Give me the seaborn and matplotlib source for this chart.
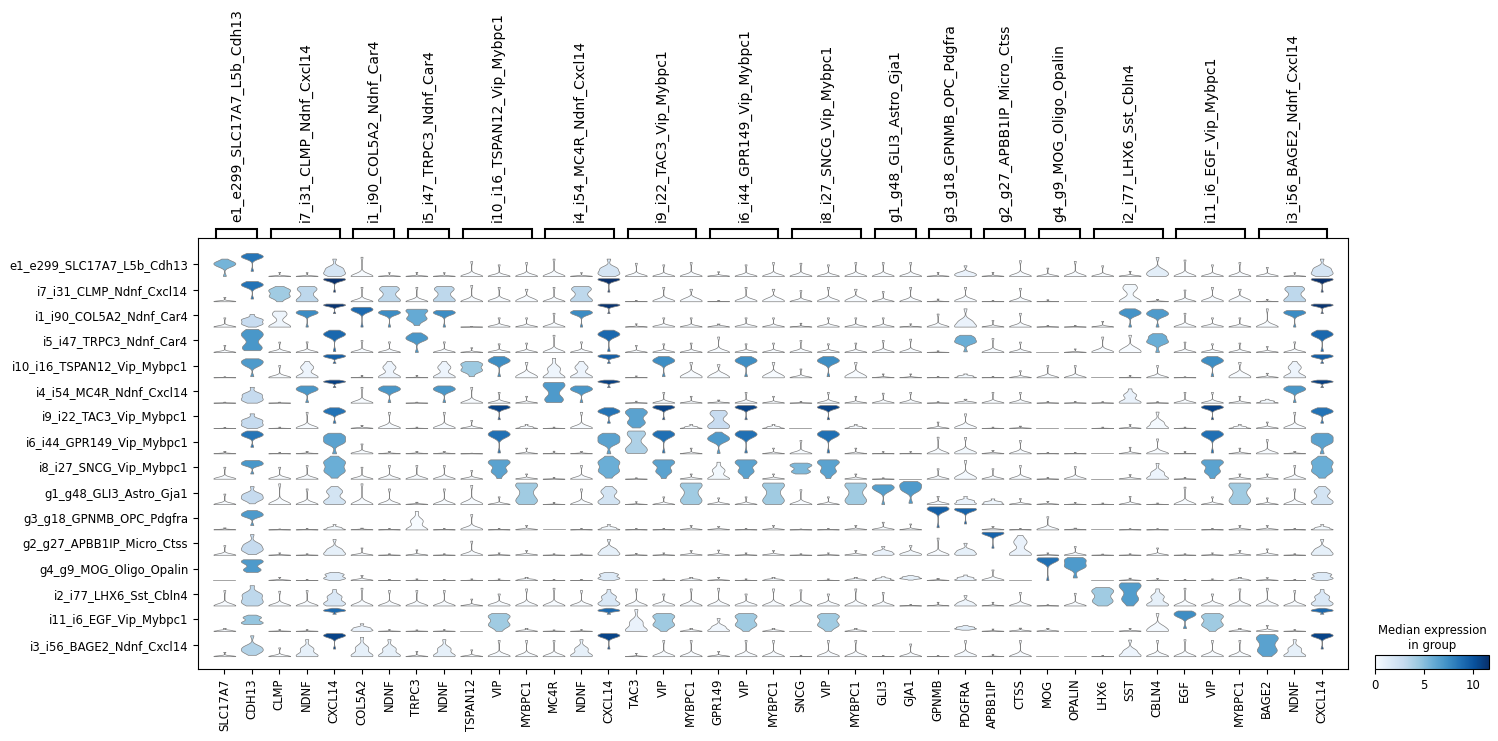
import numpy as np
import pandas as pd
import seaborn as sns
import matplotlib as mpl
import matplotlib.pyplot as plt

# clusters (rows, top to bottom)
CLUSTERS = [
    'e1_e299_SLC17A7_L5b_Cdh13', 'i7_i31_CLMP_Ndnf_Cxcl14', 'i1_i90_COL5A2_Ndnf_Car4',
    'i5_i47_TRPC3_Ndnf_Car4', 'i10_i16_TSPAN12_Vip_Mybpc1', 'i4_i54_MC4R_Ndnf_Cxcl14',
    'i9_i22_TAC3_Vip_Mybpc1', 'i6_i44_GPR149_Vip_Mybpc1', 'i8_i27_SNCG_Vip_Mybpc1',
    'g1_g48_GLI3_Astro_Gja1', 'g3_g18_GPNMB_OPC_Pdgfra', 'g2_g27_APBB1IP_Micro_Ctss',
    'g4_g9_MOG_Oligo_Opalin', 'i2_i77_LHX6_Sst_Cbln4', 'i11_i6_EGF_Vip_Mybpc1',
    'i3_i56_BAGE2_Ndnf_Cxcl14',
]

# marker genes per group (column order)
VAR_GROUPS = [
    ('e1_e299_SLC17A7_L5b_Cdh13', ['SLC17A7', 'CDH13']),
    ('i7_i31_CLMP_Ndnf_Cxcl14', ['CLMP', 'NDNF', 'CXCL14']),
    ('i1_i90_COL5A2_Ndnf_Car4', ['COL5A2', 'NDNF']),
    ('i5_i47_TRPC3_Ndnf_Car4', ['TRPC3', 'NDNF']),
    ('i10_i16_TSPAN12_Vip_Mybpc1', ['TSPAN12', 'VIP', 'MYBPC1']),
    ('i4_i54_MC4R_Ndnf_Cxcl14', ['MC4R', 'NDNF', 'CXCL14']),
    ('i9_i22_TAC3_Vip_Mybpc1', ['TAC3', 'VIP', 'MYBPC1']),
    ('i6_i44_GPR149_Vip_Mybpc1', ['GPR149', 'VIP', 'MYBPC1']),
    ('i8_i27_SNCG_Vip_Mybpc1', ['SNCG', 'VIP', 'MYBPC1']),
    ('g1_g48_GLI3_Astro_Gja1', ['GLI3', 'GJA1']),
    ('g3_g18_GPNMB_OPC_Pdgfra', ['GPNMB', 'PDGFRA']),
    ('g2_g27_APBB1IP_Micro_Ctss', ['APBB1IP', 'CTSS']),
    ('g4_g9_MOG_Oligo_Opalin', ['MOG', 'OPALIN']),
    ('i2_i77_LHX6_Sst_Cbln4', ['LHX6', 'SST', 'CBLN4']),
    ('i11_i6_EGF_Vip_Mybpc1', ['EGF', 'VIP', 'MYBPC1']),
    ('i3_i56_BAGE2_Ndnf_Cxcl14', ['BAGE2', 'NDNF', 'CXCL14']),
]

# expression summary per gene and cluster: (min, q25, median, q75, max), same order as CLUSTERS
Z = (0, 0, 0, 0, 0)
SLC17A7 = [(0, 4.5, 5.5, 6, 7.5), (0, 0, 0, 0.3, 2.2), (0, 0, 0, 0, 4.8), (0, 0, 0, 0, 3.6),
           (0, 0, 0, 0, 0.4), (0, 0, 0, 0, 0.5), (0, 0, 0, 0, 0.5), (0, 0, 0, 0.2, 1),
           (0, 0, 0, 0.3, 5.5), (0, 0, 0, 0, 4.1), (0, 0, 0, 0.2, 0.9), (0, 0, 0, 0, 4.1),
           Z, (0, 0, 0, 0, 6.7), (0, 0, 0, 0.4, 1.2), (0, 0, 0, 0.3, 2.2)]
CDH13 = [(2.2, 8, 8.5, 9, 10), (1.4, 8, 8.6, 9.5, 10.5), (0, 1.5, 2.8, 4, 6.5), (0.9, 2.5, 7, 9.5, 11.8),
         (0.5, 5.5, 6.8, 7.5, 8.4), (0, 1.5, 2.9, 4.5, 8.1), (0, 1.5, 2.9, 4.3, 7.5), (3, 8, 8.5, 9.5, 10.4),
         (2.4, 6.5, 7, 8, 8.6), (0.3, 2, 2.9, 4, 7), (2, 6.2, 6.8, 7.8, 8.8), (0.3, 2, 2.9, 4.5, 8.8),
         (3.4, 4.5, 6.8, 8, 8.6), (0, 1.5, 3.2, 5, 8.8), (3, 3.6, 4.6, 6, 7.1), (0.7, 2.5, 3.6, 5, 10.7)]
CLMP = [(0, 0, 0, 0, 1.7), (0, 2.5, 4.3, 6, 7.9), (0, 0, 0.5, 6.5, 8.3), (0, 0, 0, 0, 5.3),
        (0, 0, 0, 0.3, 5.4), (0, 0, 0, 0, 0.5), (0, 0, 0, 0, 0.7), (0, 0, 0, 0, 0.7),
        (0, 0, 0, 0.3, 5.5), (0, 0, 0, 0.3, 8.1), (0, 0, 0, 0, 0.4), (0, 0, 0, 0, 1),
        (0, 0, 0, 0.2, 1.3), (0, 0, 0, 0, 6.4), (0, 0, 0, 0, 0.7), (0, 0, 0, 0, 4.5)]
NDNF = [(0, 0, 0, 0, 1.6), (0, 0.5, 3.2, 6.5, 7.9), (0, 6.8, 7.5, 8, 8.6), (0, 0, 0, 0, 5.4),
        (0, 0.2, 0.6, 4.5, 7.2), (0.3, 6.3, 7, 8, 8.8), (0, 0, 0, 0.5, 8.3), (0, 0, 0, 0.2, 1),
        (0, 0, 0, 0, 6.3), (0, 0, 0, 0, 6.1), (0, 0, 0, 0, 0.6), (0, 0, 0, 0, 0.6),
        (0, 0, 0, 0, 0.5), (0, 0, 0, 0, 6.7), (0, 0, 0, 0, 0.7), (0, 0.3, 1, 4, 8.7)]
CXCL14 = [(0, 1, 2, 3.5, 7.5), (5, 11.2, 11.6, 11.8, 12), (7, 11, 11.4, 11.7, 12), (0.5, 8.5, 9.1, 10, 11.4),
          (6.4, 9, 9.5, 9.9, 10.2), (8, 10.6, 10.9, 11.3, 11.8), (2.7, 8, 8.6, 9.5, 10.6), (0, 5, 6.4, 8, 9.4),
          (0.5, 3.5, 5.8, 8, 10.6), (0, 0.8, 2.1, 5, 7), (0, 0, 0.3, 1, 2.4), (0, 0.3, 1, 2.5, 6.7),
          (0, 0.8, 1.5, 2.5, 3.4), (0, 0.8, 1.7, 4, 7.1), (7.5, 8.8, 9.1, 9.5, 10.1), (3.9, 10.3, 10.7, 11.2, 11.8)]
COL5A2 = [(0, 0, 0, 0, 8.3), (0, 0, 0, 0, 7.5), (0, 8.5, 9, 9.6, 10.3), (0, 0, 0, 0, 6.1),
          (0, 0, 0, 0, 1), (0, 0, 0, 0, 8.1), (0, 0, 0, 0.3, 1.5), (0, 0, 0, 0.5, 4.5),
          (0, 0, 0, 0, 5.5), (0, 0, 0, 0, 8.1), (0, 0, 0, 0.2, 0.8), (0, 0, 0, 0, 3.1),
          (0, 0, 0, 0.4, 2.1), (0, 0, 0, 0, 7.7), (0, 0.3, 0.8, 1.5, 3.3), (0, 0.3, 1, 4.5, 9.9)]
TRPC3 = [(0, 0, 0, 0, 1.7), (0, 0, 0, 0, 7.5), (0.8, 4, 6, 8.5, 9.3), (0, 6.5, 7, 8.5, 10),
         (0, 0, 0, 0, 1), (0, 0, 0, 0, 0.5), (0, 0, 0, 0, 0.7), (0, 0, 0, 0.2, 1),
         (0, 0, 0, 0, 6.3), (0, 0, 0, 0.2, 0.9), (0, 0, 0, 4, 8.4), (0, 0, 0, 0, 2.3),
         (0, 0, 0, 0, 0.7), (0, 0, 0, 0, 6.7), (0, 0, 0, 0, 0.6), (0, 0, 0, 0, 2.7)]
TSPAN12 = [(0, 0, 0, 0, 6.4), (0, 0, 0, 0, 8.5), (0, 0, 0, 0, 0.3), (0, 0, 0, 0, 2.4),
           (0.5, 3, 4.4, 6, 7.2), (0, 0, 0, 0, 8.1), (0, 0, 0, 0, 4.1), (0, 0, 0, 0, 0.3),
           (0, 0, 0, 0, 4), (0, 0, 0, 0.5, 7.5), (0, 0, 0, 0.5, 7), (0, 0, 0, 0, 6),
           (0, 0, 0, 0, 0.7), (0, 0, 0, 0, 3), Z, (0, 0, 0, 0, 3.5)]
VIP = [(0, 0, 0, 0, 5), (0, 0, 0, 0.8, 7.5), (0, 0, 0, 0.5, 4.8), (0, 0, 0, 0.3, 4.4),
       (0.5, 6.8, 7.4, 8.3, 9.4), (0, 0, 0, 0, 5.5), (4.5, 10.4, 10.8, 11.2, 11.8), (0.4, 8, 8.7, 9.6, 10.5),
       (0.3, 3.5, 6.4, 8, 8.9), (0, 0, 0, 0, 3), (0, 0, 0, 0, 0.6), (0, 0, 0, 0, 1),
       (0, 0, 0, 0, 0.7), (0, 0, 0, 0.8, 5.2), (0, 2.5, 4.3, 6.5, 7.8), (0, 0, 0, 0.5, 8.3)]
MYBPC1 = [(0, 0, 0, 0, 6), (0, 0, 0, 1.5, 6.5), (0, 0, 0, 0, 4.8), (0, 0, 0, 0, 4.8),
          (0, 0, 0, 1.5, 6.8), (0, 0, 0, 0, 3.5), (0, 0, 0, 0.8, 2), (0, 0, 0, 0, 2.6),
          (0, 0, 0, 0.3, 2.4), (0, 1.5, 4.3, 7.5, 8.4), (0, 0, 0, 0.3, 2), (0, 0, 0, 0.3, 2),
          (0, 0, 0.2, 0.5, 1.3), (0, 0, 0, 0, 7.4), (0, 0, 0, 0.4, 1.2), (0, 0, 0, 0, 8.3)]
MC4R = [(0, 0, 0, 0, 7.5), (0, 0, 0, 0, 7.5), (0, 0, 0, 0, 7.2), (0, 0, 0, 0, 8.8),
        (0, 0, 0.5, 4, 8.6), (0.3, 2, 6.8, 9.5, 10.6), (0, 0, 0, 0, 0.7), (0, 0, 0, 0, 1.2),
        (0, 0, 0, 0, 0.7), (0, 0, 0, 0, 0.8), Z, (0, 0, 0, 0, 0.6),
        (0, 0, 0, 0, 0.5), (0, 0, 0, 0, 7.7), (0, 0, 0, 0, 0.6), (0, 0, 0, 0, 8.3)]
TAC3 = [(0, 0, 0, 0, 5.7), (0, 0, 0, 0, 0.7), (0, 0, 0, 0, 1.7), (0, 0, 0, 0, 3.6),
        (0, 0, 0, 0, 0.8), (0, 0, 0, 0, 1), (0.3, 3, 6.4, 8.5, 10.2), (0.2, 1.5, 3.8, 9, 10.4),
        (0, 0, 0, 0, 0.6), (0, 0, 0, 0, 1.1), (0, 0, 0, 0, 0.6), (0, 0, 0, 0, 0.8),
        Z, (0, 0, 0, 0, 7.4), (0, 0.3, 0.8, 4, 9.5), (0, 0, 0, 0, 1.7)]
GPR149 = [(0, 0, 0, 0.2, 2), (0, 0, 0, 0.1, 0.5), (0, 0, 0, 0.5, 1.6), (0, 0, 0, 0, 7.9),
          (0, 0, 0, 1.5, 5.8), (0, 0, 0, 0.3, 1.6), (0, 0.8, 2.8, 7.5, 9.2), (0.2, 6, 6.8, 8, 9.9),
          (0, 0, 0.3, 4, 7.8), (0, 0, 0, 0.3, 2.6), (0, 0, 0, 0.3, 1.5), (0, 0, 0, 0.2, 2.2),
          (0, 0, 0, 0.2, 1.3), (0, 0, 0, 0, 7.7), (0, 0, 0.4, 2, 5.6), (0, 0, 0, 0.3, 2.7)]
SNCG = [(0, 0, 0, 0, 5.7), (0, 0, 0, 0, 5.8), (0, 0, 0, 0, 2), (0, 0, 0, 0, 6.1),
        (0, 0, 0, 0, 3.9), (0, 0, 0, 0, 0.8), Z, (0, 0, 0, 0, 6.1),
        (2.4, 3.5, 5.3, 6.5, 7.4), (0, 0, 0, 0, 5.8), (0, 0, 0, 0, 0.4), (0, 0, 0, 0, 0.6),
        Z, (0, 0, 0, 0, 7), Z, (0, 0, 0, 0, 0.7)]
GLI3 = [(0, 0, 0, 0, 6), (0, 0, 0, 0, 5.3), (0, 0, 0, 0, 4.8), (0, 0, 0, 0, 6.1),
        (0, 0, 0, 0, 1.7), (0, 0, 0, 0, 5.1), Z, (0, 0, 0, 0, 1),
        (0, 0, 0, 0, 0.6), (0, 5.5, 6.6, 7.2, 7.7), (0, 0, 0, 0.4, 3.5), (0, 0.3, 0.8, 1.5, 3.7),
        (0, 0, 0.3, 0.8, 1.6), (0, 0, 0, 0, 5.9), Z, (0, 0, 0, 0, 0.6)]
GJA1 = [(0, 0, 0, 0, 6), (0, 0, 0, 0, 7.5), (0, 0, 0, 0, 1.7), (0, 0, 0, 0, 6.8),
        (0, 0, 0, 0, 1.7), (0, 0, 0, 0, 5.5), Z, (0, 0, 0, 0, 1),
        Z, (0.5, 5.5, 6.8, 8, 9), (0, 0, 0, 0, 2.7), (0, 0, 0.3, 1, 4.1),
        (0.2, 0.8, 1, 1.5, 2.1), (0, 0, 0, 0, 0.6), Z, (0, 0, 0, 0, 6.5)]
GPNMB = [(0, 0, 0, 0, 1.7), (0, 0, 0, 0, 1.4), (0, 0, 0, 0, 6.8), (0, 0, 0, 0, 0.8),
         (0, 0, 0, 0, 0.5), (0, 0, 0, 0, 0.7), (0, 0, 0, 0, 3.3), (0, 0, 0, 0, 7.6),
         (0, 0, 0, 0, 4.8), (0, 0, 0, 0.5, 3.2), (1, 9, 9.5, 10, 10.5), (0, 0, 0, 0.3, 7.3),
         (0, 0, 0, 0.2, 0.8), (0, 0, 0, 0, 1.6), Z, (0, 0, 0, 0, 0.5)]
PDGFRA = [(0, 0.3, 0.8, 1.5, 4.6), (0, 0, 0, 1, 7.5), (0, 0, 0.8, 3, 9.5), (0.3, 5, 5.8, 7.5, 8.8),
          (0, 0, 0.3, 0.8, 1.7), (0, 0, 0.2, 0.6, 2), (0, 0, 0, 1, 7.5), (0, 0, 0.3, 1, 7.5),
          (0, 0, 0.2, 1.5, 8.6), (0, 0.2, 0.8, 1.5, 3.1), (2.7, 8.8, 9.3, 9.7, 9.8), (0, 0.3, 1, 2, 5.1),
          (0, 0.2, 0.6, 1.2, 2.3), (0, 0, 0.5, 1.5, 4.5), (0.5, 1, 1.3, 1.8, 2.5), (0, 0, 0.2, 1, 8.2)]
APBB1IP = [(0, 0, 0, 0, 1.7), (0, 0, 0, 0, 0.7), (0, 0, 0, 0, 3.4), (0, 0, 0, 0, 7.1),
           (0, 0, 0, 0, 0.6), (0, 0, 0, 0, 5.5), (0, 0, 0, 0, 0.7), (0, 0, 0, 0.3, 1.5),
           (0, 0, 0, 0, 4.8), (0, 0, 0.5, 1, 2.2), (0, 0, 0, 0.3, 1.5), (3, 9, 9.3, 9.6, 9.8),
           (0, 0, 0, 0.5, 4.4), (0, 0, 0, 0, 1.6), (0, 0, 0, 0, 1), (0, 0, 0, 0, 1.2)]
CTSS = [(0, 0, 0, 0, 6.8), (0, 0, 0, 0, 7), (0, 0, 0, 0, 7.2), (0, 0, 0, 0, 5.3),
        (0, 0, 0, 0, 3.1), (0, 0, 0, 0, 5.5), (0, 0, 0, 0.2, 1.2), (0, 0, 0, 0, 6.1),
        (0, 0, 0, 0, 6.3), (0, 0, 0, 0.2, 2.3), (0, 0, 0, 0, 0.6), (0, 0.3, 0.8, 5.5, 8.4),
        Z, (0, 0, 0, 0, 5.9), (0, 0, 0, 0.3, 1.4), (0, 0, 0, 0, 8.3)]
MOG = [(0, 0, 0, 0, 3.6), (0, 0, 0, 0, 1), (0, 0, 0, 0, 0.9), Z,
       (0, 0, 0, 0, 5.4), (0, 0, 0, 0, 0.8), Z, (0, 0, 0, 0, 0.6),
       (0, 0, 0, 0, 0.7), (0, 0, 0, 0.2, 1.2), (0, 0, 0, 0.3, 6), (0, 0, 0, 0, 1),
       (0, 8.2, 8.7, 9.1, 9.4), (0, 0, 0, 0, 0.5), (0, 0, 0, 0.3, 1.3), Z]
OPALIN = [(0, 0, 0, 0, 6.5), Z, (0, 0, 0, 0, 0.9), (0, 0, 0, 0, 1.8),
          (0, 0, 0, 0, 5.4), (0, 0, 0, 0, 0.8), Z, (0, 0, 0, 0, 0.6),
          (0, 0, 0, 0, 5.8), (0, 0, 0, 0, 0.8), (0, 0, 0, 0.2, 0.8), (0, 0, 0, 0, 3.7),
          (1.1, 5.5, 6.8, 8.5, 9.5), (0, 0, 0, 0, 5.5), Z, Z]
LHX6 = [(0, 0, 0, 0, 4.6), Z, (0, 0, 0, 0, 3), (0, 0, 0, 0.5, 7.9),
        Z, (0, 0, 0, 0, 0.7), (0, 0, 0, 0, 0.7), Z,
        Z, (0, 0, 0, 0, 0.6), Z, (0, 0, 0, 0, 0.5),
        Z, (0, 2, 4.3, 6.5, 8), Z, (0, 0, 0, 0, 0.6)]
SST = [(0, 0, 0, 0.2, 2.2), (0, 0, 0.3, 7, 9), (0, 6.5, 7.2, 8.3, 9.5), (0, 0, 0, 2, 8.8),
       (0, 0, 0, 0, 1), (0, 0.2, 0.8, 4, 7.3), (0, 0, 0, 0.2, 2), (0, 0, 0, 0, 3),
       (0, 0, 0, 0.3, 2.1), (0, 0, 0, 0, 3.2), (0, 0, 0, 0, 0.5), (0, 0, 0, 0, 0.6),
       (0, 0, 0, 0.2, 1), (0, 3, 6.7, 9, 10), (0, 0, 0, 0.2, 1.2), (0, 0.2, 0.6, 3, 8.5)]
CBLN4 = [(0, 0.5, 1.2, 2.5, 8.2), (0, 0, 0, 0.2, 1.2), (0, 6, 6.8, 8, 9.3), (0, 5, 5.8, 8, 9.6),
         (0, 0, 0, 0, 5.4), (0, 0, 0, 0, 0.7), (0, 0, 0.2, 3, 8.4), (0, 0, 0, 0.3, 6.8),
         (0, 0.2, 0.6, 3, 7.3), (0, 0, 0, 0, 0.6), (0, 0, 0, 0, 0.5), (0, 0, 0, 0, 3.1),
         (0, 0, 0, 0, 0.9), (0, 0.3, 1, 4, 7.4), (0, 0, 0.2, 2, 7.8), (0, 0, 0, 0.3, 8.3)]
EGF = [(0, 0, 0, 0, 7.1), (0, 0, 0, 0, 6.1), (0, 0, 0, 0, 7.2), (0, 0, 0, 0, 5.3),
       (0, 0, 0, 0, 0.4), (0, 0, 0, 0, 5.5), (0, 0, 0, 0, 0.7), (0, 0, 0, 0, 1),
       (0, 0, 0, 0, 0.8), (0, 0, 0, 0, 6.8), Z, (0, 0, 0, 0, 0.6),
       (0, 0, 0, 0, 0.5), (0, 0, 0, 0, 7.7), (1.2, 6.5, 7.4, 8.2, 8.9), (0, 0, 0, 0, 8.7)]
BAGE2 = [(0, 0, 0, 0.3, 3.9), (0, 0, 0, 0, 1.2), (0, 0, 0, 0, 9.5), (0, 0, 0, 0.2, 3),
         (0, 0, 0, 0.3, 2), (0, 0, 0.3, 1, 2), (0, 0, 0, 0.3, 3.3), (0, 0, 0, 0.3, 6.5),
         (0, 0, 0, 0.3, 2.4), (0, 0, 0, 0, 2.6), (0, 0, 0, 0.3, 2), (0, 0, 0, 0.3, 2.7),
         (0, 0, 0, 0.2, 1.2), (0, 0, 0, 0.3, 7.7), (0, 0, 0, 0.3, 2.6), (0, 3, 6.4, 9.5, 11.3)]

EXPR = {
    'SLC17A7': SLC17A7, 'CDH13': CDH13, 'CLMP': CLMP, 'NDNF': NDNF, 'CXCL14': CXCL14,
    'COL5A2': COL5A2, 'TRPC3': TRPC3, 'TSPAN12': TSPAN12, 'VIP': VIP, 'MYBPC1': MYBPC1,
    'MC4R': MC4R, 'TAC3': TAC3, 'GPR149': GPR149, 'SNCG': SNCG, 'GLI3': GLI3, 'GJA1': GJA1,
    'GPNMB': GPNMB, 'PDGFRA': PDGFRA, 'APBB1IP': APBB1IP, 'CTSS': CTSS, 'MOG': MOG,
    'OPALIN': OPALIN, 'LHX6': LHX6, 'SST': SST, 'CBLN4': CBLN4, 'EGF': EGF, 'BAGE2': BAGE2,
}

# how many times each summary value counts when it goes into the density estimate
QUANTILE_WEIGHTS = (1, 4, 2, 4, 1)

genes = [g for _, gs in VAR_GROUPS for g in gs]
n_rows, n_cols = len(CLUSTERS), len(genes)

# colour = median expression of the group
medians = np.array([[EXPR[g][r][2] for g in genes] for r in range(n_rows)])
norm = mpl.colors.Normalize(vmin=0, vmax=medians.max())
cmap = plt.get_cmap('Blues')

W, H = 1498, 741
fig = plt.figure(figsize=(W / 100, H / 100), dpi=100)


def px_rect(x0, y0, x1, y1):
    return [x0 / W, 1 - y1 / H, (x1 - x0) / W, (y1 - y0) / H]


# main frame with tick labels
ax = fig.add_axes(px_rect(198, 238, 1348, 669))
ax.set_xlim(-0.96, n_cols - 0.04)
ax.set_ylim(n_rows - 0.04, -1.04)
ax.set_xticks(range(n_cols))
ax.set_xticklabels(genes, rotation=90, fontsize='small')
ax.set_yticks(range(n_rows))
ax.set_yticklabels(CLUSTERS, fontsize='small')
ax.grid(False)

to_fig = fig.transFigure.inverted()
cols = [f'c{i}' for i in range(n_cols)]
for r in range(n_rows):
    # one row of violins, own value scale
    (x0, y0) = to_fig.transform(ax.transData.transform((-0.5, r + 0.5)))
    (x1, y1) = to_fig.transform(ax.transData.transform((n_cols - 0.5, r - 0.5)))
    rax = fig.add_axes([x0, y0, x1 - x0, y1 - y0])
    recs = []
    for c, g in enumerate(genes):
        for v, w in zip(EXPR[g][r], QUANTILE_WEIGHTS):
            recs += [(cols[c], v)] * w
    df = pd.DataFrame(recs, columns=['gene', 'expr'])
    pal = {cols[c]: cmap(norm(medians[r, c])) for c in range(n_cols)}
    sns.violinplot(data=df, x='gene', y='expr', hue='gene', order=cols, hue_order=cols,
                   palette=pal, legend=False, cut=0, density_norm='width', inner=None,
                   linewidth=0.5, linecolor='#808080', saturation=1, bw_adjust=0.8,
                   width=0.8, ax=rax)
    rax.set_xlim(-0.5, n_cols - 0.5)
    rax.set_axis_off()

# group brackets on top
bax = fig.add_axes(px_rect(198, 222, 1348, 238))
bax.set_xlim(ax.get_xlim())
bax.set_ylim(0, 16)
bax.set_axis_off()
start = 0
for label, gs in VAR_GROUPS:
    left, right = start - 0.3, start + len(gs) - 1 + 0.2
    bax.plot([left, left, right, right], [0, 9, 9, 0], color='black', lw=1.5,
             clip_on=False, solid_joinstyle='miter')
    bax.text((left + right) / 2, 16, label, rotation=90, ha='center', va='bottom',
             fontsize=10)
    start += len(gs)

# colour bar
cax = fig.add_axes(px_rect(1375, 655, 1489, 669))
cb = fig.colorbar(mpl.cm.ScalarMappable(norm=norm, cmap=cmap), cax=cax,
                  orientation='horizontal')
cb.set_ticks([0, 5, 10])
cax.tick_params(labelsize='small')
cax.set_title('Median expression\nin group', fontsize='small', pad=4)

fig.savefig('out.png', dpi=100)
